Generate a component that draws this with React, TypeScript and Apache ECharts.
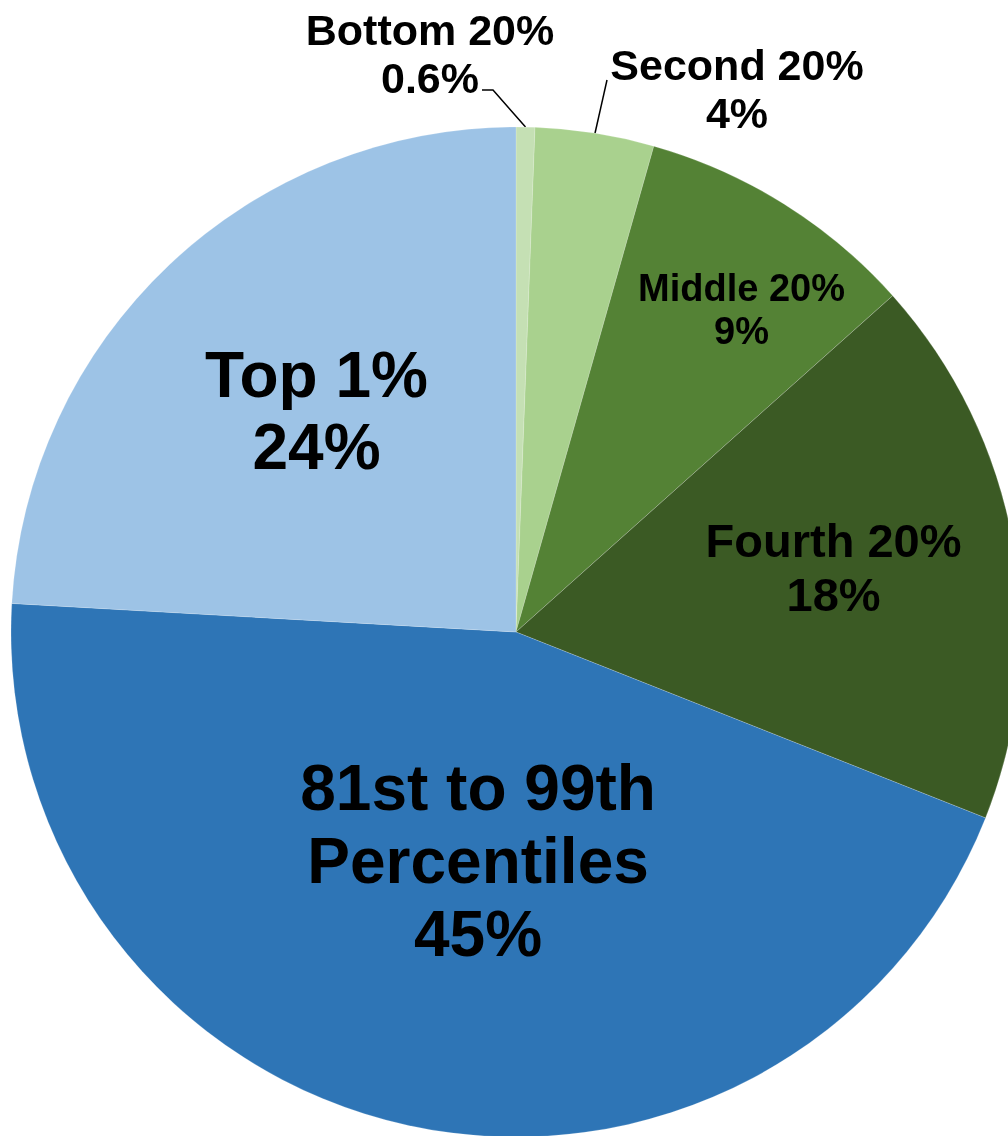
import React, { useEffect, useRef } from "react";
import * as echarts from "echarts";

const categories = [
  "Bottom 20%",
  "Second 20%",
  "Middle 20%",
  "Fourth 20%",
  "81st to 99th\nPercentiles",
  "Top 1%",
];
const shares = [0.6, 3.8, 9.0, 17.6, 44.9, 24.1];
const shareLabels = ["0.6%", "4%", "9%", "18%", "45%", "24%"];
const colors = ["#c5e0b4", "#a9d18e", "#548235", "#3b5a24", "#2e75b6", "#9dc3e6"];

const CX = 516;
const CY = 632;
const R = 505;

export default function App() {
  const ref = useRef<HTMLDivElement>(null);
  useEffect(() => {
    if (!ref.current) return;
    const chart = echarts.init(ref.current, null, { renderer: "svg" });
    const total = shares.reduce((a, b) => a + b, 0);
    const mids: number[] = [];
    let acc = 0;
    shares.forEach((v) => {
      mids.push(((acc + v / 2) / total) * Math.PI * 2);
      acc += v;
    });
    const edgePoint = (i: number) => [CX + R * Math.sin(mids[i]), CY - R * Math.cos(mids[i])];

    const labelStyle = [
      { position: "outside", fontSize: 43, lineHeight: 48 },
      { position: "outside", fontSize: 43, lineHeight: 48 },
      { position: "inside", fontSize: 38, lineHeight: 43, offset: [90, -106] },
      { position: "inside", fontSize: 47, lineHeight: 54, offset: [66, -20] },
      { position: "inside", fontSize: 64, lineHeight: 73, offset: [17, -21] },
      { position: "inside", fontSize: 64, lineHeight: 72, offset: [-24, -35] },
    ];

    const data = categories.map((name, i) => ({
      name,
      value: shares[i],
      itemStyle: { color: colors[i] },
      label: {
        show: true,
        ...labelStyle[i],
        formatter: name + "\n" + shareLabels[i],
      },
      labelLine: { show: i < 2 },
    }));

    chart.setOption({
      animation: false,
      series: [
        {
          type: "pie",
          center: [CX, CY],
          radius: R,
          startAngle: 90,
          clockwise: true,
          avoidLabelOverlap: false,
          itemStyle: { borderColor: "rgba(255,255,255,0.3)", borderWidth: 0.6 },
          label: {
            color: "#000",
            fontFamily: "Liberation Sans, Arial, sans-serif",
            fontWeight: "bold",
            align: "center",
          },
          labelLine: {
            show: true,
            lineStyle: { color: "#000", width: 1.5 },
          },
          labelLayout: (params: any) => {
            const i = params.dataIndex;
            if (i === 0) {
              const p0 = edgePoint(0);
              return {
                x: 430,
                y: 54,
                align: "center",
                verticalAlign: "middle",
                labelLinePoints: [p0, [493, 90], [482, 90]],
              };
            }
            if (i === 1) {
              const p0 = edgePoint(1);
              const end = [607, 80];
              return {
                x: 737,
                y: 89,
                align: "center",
                verticalAlign: "middle",
                labelLinePoints: [p0, [(p0[0] + end[0]) / 2, (p0[1] + end[1]) / 2], end],
              };
            }
            return {};
          },
          data,
        },
      ],
    });
    return () => chart.dispose();
  }, []);
  return (
    <div
      ref={ref}
      style={{ position: "fixed", left: 0, top: 0, width: 1008, height: 1136 }}
    />
  );
}
